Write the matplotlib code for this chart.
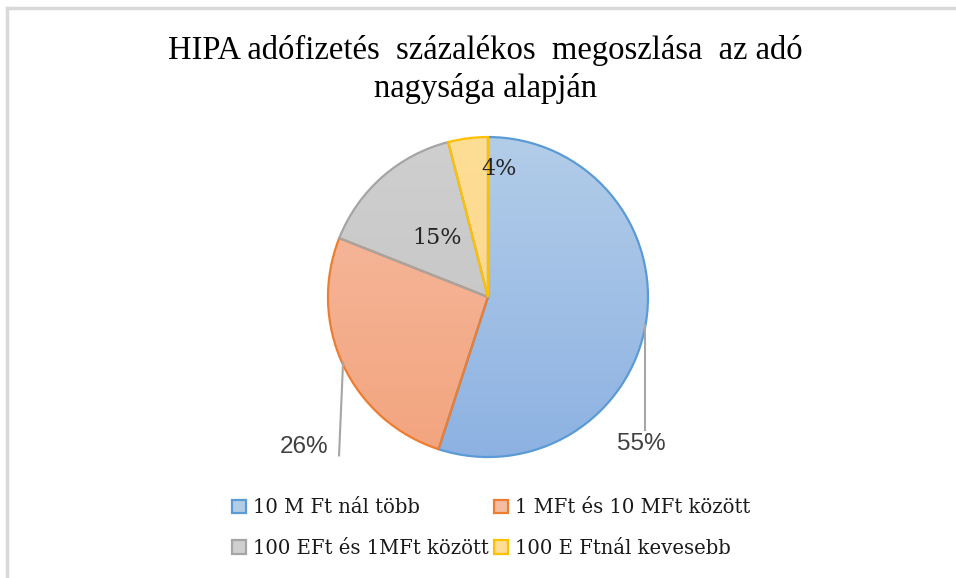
import numpy as np
import matplotlib
matplotlib.use("Agg")
from matplotlib import pyplot as plt
from matplotlib.lines import Line2D
from matplotlib.patches import Patch
from matplotlib.colors import LinearSegmentedColormap

#---------------------------------------------------------------------------
title = "HIPA adófizetés  százalékos  megoszlása  az adó\nnagysága alapján"
categories = ["10 M Ft nál több", "1 MFt és 10 MFt között",
              "100 EFt és 1MFt között", "100 E Ftnál kevesebb"]
shares = [55, 26, 15, 4]

fill_top = ["#b3cde9", "#f5bca2", "#cfcfcf", "#fedd95"]
fill_bottom = ["#8db2e2", "#f3a47e", "#c2c2c2", "#fdd48a"]
edges = ["#5b9bd5", "#ed7d31", "#a5a5a5", "#ffc000"]

# label placement (data units, pie radius = 1)
label_pos = [(0.96, -0.92), (-1.15, -0.94), (-0.32, 0.37), (0.07, 0.80)]
label_serif = [False, False, True, True]
leaders = [((0.981, -0.175), (0.981, -0.83)), ((-0.906, -0.41), (-0.931, -0.99)), None, None]

#---------------------------------------------------------------------------
fig = plt.figure(figsize=(9.56, 5.78), dpi=100)
ax = fig.add_axes([0.3431, 0.2093, 0.3347, 0.5536])

wedges, _ = ax.pie(shares, startangle=90, counterclock=False,
                   colors=fill_bottom,
                   wedgeprops=dict(linewidth=1.6))
grad = np.linspace(0, 1, 256).reshape(-1, 1)
for w, ct, cb, ec in zip(wedges, fill_top, fill_bottom, edges):
    w.set_edgecolor(ec)
    cmap = LinearSegmentedColormap.from_list("g", [ct, cb])
    im = ax.imshow(grad, cmap=cmap, extent=(-1, 1, -1, 1), aspect="auto",
                   origin="upper", zorder=w.get_zorder() - 0.1)
    im.set_clip_path(w)
    w.set_facecolor("none")

for val, (x, y), serif, lead in zip(shares, label_pos, label_serif, leaders):
    if serif:
        ax.text(x, y, "{}%".format(val), ha="center", va="center",
                fontsize=16, family="DejaVu Serif", color="#262626")
    else:
        ax.text(x, y, "{}%".format(val), ha="center", va="center",
                fontsize=17.5, family="Liberation Sans", color="#404040")
    if lead is not None:
        ax.plot([lead[0][0], lead[1][0]], [lead[0][1], lead[1][1]],
                color="#a6a6a6", lw=1.5, clip_on=False)

ax.set_xlim(-1, 1)
ax.set_ylim(-1, 1)
ax.axis("off")

fig.text(0.508, 0.88, title, ha="center", va="center", fontsize=23.5,
         family="Liberation Serif", color="#000000", linespacing=1.3)

handles = [Patch(facecolor=fc, edgecolor=ec, linewidth=1.6)
           for fc, ec in zip(fill_top, edges)]
order = [0, 2, 1, 3]  # legend fills by column, reference reads by row
fig.legend([handles[i] for i in order], [categories[i] for i in order],
           loc="center", bbox_to_anchor=(491 / 956, 1 - 528 / 578),
           ncol=2, frameon=False, prop=dict(family="DejaVu Serif", size=14.1),
           handlelength=0.7, handleheight=0.7, handletextpad=0.35,
           columnspacing=0.3, labelspacing=1.1, labelcolor="#1a1a1a")

fig.add_artist(Line2D([7 / 956, 1], [1 - 8 / 578, 1 - 8 / 578], color="#d9d9d9", lw=2.5))
fig.add_artist(Line2D([7 / 956, 7 / 956], [0, 1 - 8 / 578], color="#d9d9d9", lw=2.5))

fig.savefig("out.png", dpi=100, facecolor="white")
